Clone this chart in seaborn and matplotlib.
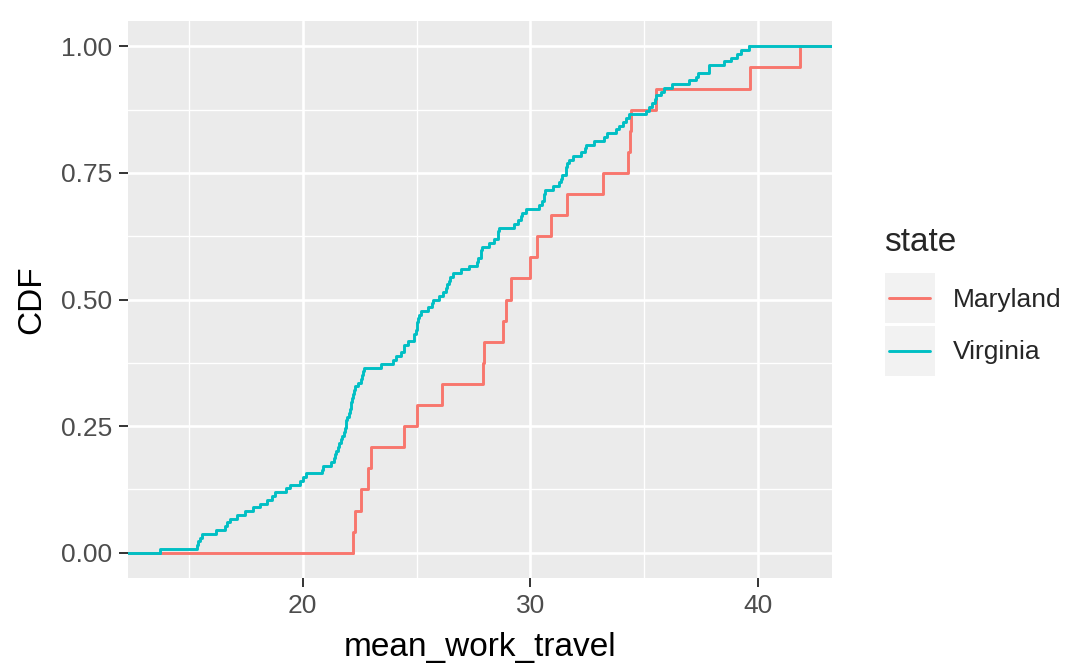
import numpy as np
import pandas as pd
import matplotlib
matplotlib.use('Agg')
import matplotlib.pyplot as plt
import seaborn as sns
from matplotlib.patches import Rectangle
from matplotlib.lines import Line2D

states = ['Maryland', 'Virginia']
colors = ['#F8766D', '#00BFC4']

# mean travel time to work by county
maryland = [22.20, 22.30, 22.56, 22.86, 22.98, 24.43, 25.00, 26.13, 27.92, 27.98,
            28.81, 28.93, 29.17, 30.00, 30.30, 30.90, 31.60, 33.20, 34.30, 34.40,
            34.42, 35.50, 39.64, 41.85]
virginia = [13.73, 15.34, 15.41, 15.48, 15.56, 16.21, 16.58, 16.68, 16.80, 17.12,
            17.46, 17.82, 18.11, 18.41, 18.63, 18.77, 19.25, 19.43, 19.87, 20.01,
            20.16, 20.86, 20.90, 21.26, 21.38, 21.42, 21.48, 21.57, 21.61, 21.68,
            21.72, 21.80, 21.84, 21.88, 21.92, 21.95, 22.02, 22.06, 22.10, 22.14,
            22.18, 22.22, 22.27, 22.30, 22.43, 22.55, 22.59, 22.63, 22.67, 23.45,
            23.96, 24.11, 24.33, 24.43, 24.46, 24.62, 24.87, 24.90, 24.97, 25.00,
            25.03, 25.08, 25.12, 25.20, 25.50, 25.68, 25.74, 26.00, 26.15, 26.28,
            26.32, 26.43, 26.47, 26.59, 26.96, 27.32, 27.66, 27.70, 27.82, 27.85,
            27.88, 28.20, 28.42, 28.57, 28.59, 28.61, 29.30, 29.44, 29.60, 29.65,
            29.81, 30.39, 30.51, 30.58, 30.61, 30.64, 30.98, 31.27, 31.36, 31.41,
            31.55, 31.58, 31.61, 31.71, 31.86, 32.22, 32.42, 32.46, 32.81, 33.25,
            33.39, 33.76, 33.90, 34.05, 34.20, 34.34, 35.07, 35.22, 35.34, 35.48,
            35.53, 35.73, 35.88, 36.24, 36.97, 37.30, 37.36, 37.83, 37.87, 38.51,
            38.80, 39.09, 39.24, 39.61]

x_ticks = [20, 30, 40]
x_minor = [15, 25, 35]
y_ticks = [0, 0.25, 0.5, 0.75, 1.0]
y_labels = ['0.00', '0.25', '0.50', '0.75', '1.00']
y_minor = [0.125, 0.375, 0.625, 0.875]

df = pd.DataFrame({
    'mean_work_travel': maryland + virginia,
    'state': ['Maryland'] * len(maryland) + ['Virginia'] * len(virginia),
})

sns.set_theme(style='darkgrid')
plt.rcParams['font.family'] = ['Liberation Sans', 'DejaVu Sans']

fig = plt.figure(figsize=(10.67, 6.65), dpi=100)
ax = fig.add_axes([0.12, 0.1308, 0.6598, 0.8376])
ax.set_facecolor('#EBEBEB')

lo, hi = df['mean_work_travel'].min(), df['mean_work_travel'].max()
pad = 0.05 * (hi - lo)
xlo, xhi = lo - pad, hi + pad

lw = 2.1
for st, col in zip(states, colors):
    sub = df[df['state'] == st]
    sns.ecdfplot(data=sub, x='mean_work_travel', color=col, lw=lw, ax=ax)
    # ggplot's stat_ecdf runs the line to the panel edges
    ax.plot([xlo, sub['mean_work_travel'].min()], [0, 0], color=col, lw=lw)
    ax.plot([sub['mean_work_travel'].max(), xhi], [1, 1], color=col, lw=lw)

ax.set_xlim(xlo, xhi)
ax.set_ylim(-0.05, 1.05)
ax.set_xticks(x_ticks)
ax.set_xticks(x_minor, minor=True)
ax.set_yticks(y_ticks)
ax.set_yticklabels(y_labels)
ax.set_yticks(y_minor, minor=True)
ax.set_axisbelow(True)
ax.grid(which='major', color='white', lw=1.9)
ax.grid(which='minor', color='white', lw=0.95)
for s in ax.spines.values():
    s.set_visible(False)
ax.tick_params(which='major', bottom=True, left=True, length=6.5, width=1.4,
               color='#333333', labelcolor='#4D4D4D', labelsize=19, pad=5)
ax.tick_params(which='minor', length=0)
ax.set_xlabel('mean_work_travel', fontsize=24, color='black', labelpad=10)
ax.set_ylabel('CDF', fontsize=24, color='black', labelpad=10)

# legend drawn by hand to mimic ggplot's key boxes
W, H = 1067, 665
fig.text(884 / W, 1 - 251 / H, 'state', fontsize=24, ha='left', va='baseline')
for i, (st, col) in enumerate(zip(states, colors)):
    top = 273 + i * 52.5
    fig.patches.append(Rectangle((885 / W, 1 - (top + 50) / H), 50 / W, 50 / H,
                                 transform=fig.transFigure, facecolor='#F2F2F2',
                                 edgecolor='none'))
    yc = 1 - (top + 25) / H
    fig.lines.append(Line2D([889 / W, 930 / W], [yc, yc], color=col, lw=lw,
                            transform=fig.transFigure))
    fig.text(953 / W, 1 - (top + 34) / H, st, fontsize=19, ha='left', va='baseline')

fig.savefig('out.png', dpi=100)
